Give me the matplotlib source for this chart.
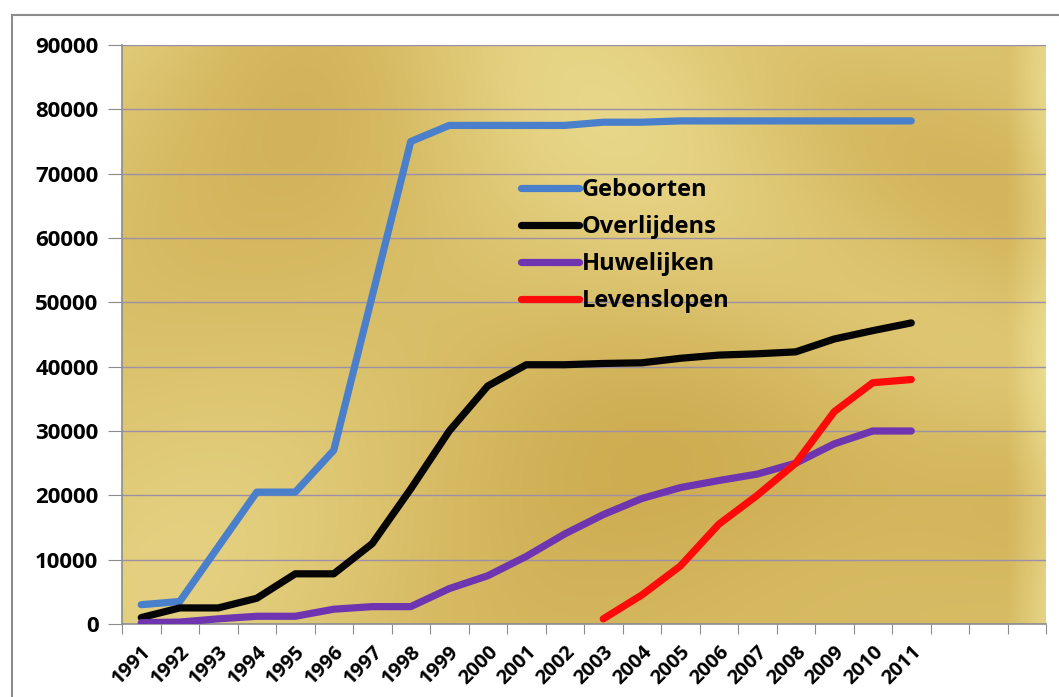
import numpy as np
import matplotlib
matplotlib.use("Agg")
import matplotlib.pyplot as plt
from matplotlib.patches import Rectangle

years = [str(y) for y in range(1991, 2012)]
n_slots = 24  # category axis has three empty slots after 2011

geboorten = [3000, 3500, 12000, 20500, 20500, 27000, 51000, 75000, 77500, 77500, 77500,
             77500, 78000, 78000, 78200, 78200, 78200, 78200, 78200, 78200, 78200]
overlijdens = [1000, 2500, 2500, 4000, 7800, 7800, 12500, 21000, 30000, 37000, 40300,
               40300, 40500, 40600, 41300, 41800, 42000, 42300, 44300, 45600, 46800]
huwelijken = [200, 300, 800, 1200, 1200, 2300, 2700, 2700, 5500, 7500, 10500,
              14000, 17000, 19500, 21200, 22300, 23300, 25000, 28000, 30000, 30000]
lev_years = years[12:]
levenslopen = [800, 4500, 9000, 15500, 20000, 25000, 33000, 37500, 38000]

series = [
    ("Geboorten", years, geboorten, "#4a7fcb"),
    ("Overlijdens", years, overlijdens, "#050505"),
    ("Huwelijken", years, huwelijken, "#6f35b0"),
    ("Levenslopen", lev_years, levenslopen, "#ff0a0a"),
]

plt.rcParams['font.family'] = ['Open Sans', 'DejaVu Sans']

fig = plt.figure(figsize=(10.59, 6.97), dpi=100)
fig.patch.set_facecolor("white")
# outer chart border
fig.patches.append(Rectangle((12/1059, 1 - 700/697), 1.2, (700-15)/697, transform=fig.transFigure,
                             fill=False, edgecolor="#8c8c8c", linewidth=1.5))

ax = fig.add_axes([122/1059, 1 - 624/697, (1046-122)/1059, (624-45)/697])

# gold textured background
gx = np.linspace(0, 1, 300)
gy = np.linspace(0, 1, 200)
X, Y = np.meshgrid(gx, gy)
tex = (0.55 + 0.15*np.sin(6*X + 1.0)*np.cos(4*Y) + 0.10*np.sin(13*X*Y + 2)
       + 0.08*np.cos(9*X - 5*Y) + 0.20*Y - 0.10*X + 0.35*np.clip((X - 0.96)/0.04, 0, 1))
tex = (tex - tex.min())/(tex.max() - tex.min())
light = np.array([0.92, 0.86, 0.56])
dark = np.array([0.81, 0.68, 0.32])
img = dark + (light - dark)*tex[..., None]
ax.imshow(img, extent=[0, n_slots, 0, 90000], aspect="auto", origin="lower", zorder=0,
          interpolation="bilinear")

xpos = {y: i + 0.5 for i, y in enumerate(years)}
for name, xs, vals, col in series:
    ax.plot([xpos[v] for v in xs], vals, color=col, lw=5.2, label=name,
            solid_capstyle="round", solid_joinstyle="round", zorder=3)

ax.set_xlim(0, n_slots)
ax.set_ylim(0, 90000)
ax.set_yticks(range(0, 90001, 10000))
ax.set_yticklabels([str(v) for v in range(0, 90001, 10000)], fontsize=16, fontweight="bold")
ax.grid(axis="y", color="#9d8fa6", lw=1.0, zorder=1)
ax.set_axisbelow(False)
for gl in ax.get_ygridlines():
    gl.set_zorder(1)

ax.set_xticks(range(0, n_slots + 1))
ax.set_xticklabels([])
ax.set_xticks([i + 0.5 for i in range(len(years))], minor=True)
ax.set_xticklabels(years, minor=True, rotation=45, ha="right", va="top",
                   rotation_mode="anchor", fontsize=14.5, fontweight="bold")
ax.tick_params(axis="x", which="minor", length=0, pad=13)
ax.tick_params(axis="x", which="major", length=7, color="#8c8c8c", direction="out")
ax.tick_params(axis="y", length=10, color="#8c8c8c", direction="out", pad=7)

for s in ["top", "right"]:
    ax.spines[s].set_visible(False)
for s in ["left", "bottom"]:
    ax.spines[s].set_color("#8c8c8c")
    ax.spines[s].set_linewidth(1.2)

leg = ax.legend(loc="upper left", bbox_to_anchor=(0.422, 0.786), frameon=False,
                prop={"size": 17, "weight": "bold"}, handlelength=2.45, handletextpad=0.1,
                labelspacing=0.55, borderaxespad=0)

fig.savefig("out.png", dpi=100, facecolor="white")
